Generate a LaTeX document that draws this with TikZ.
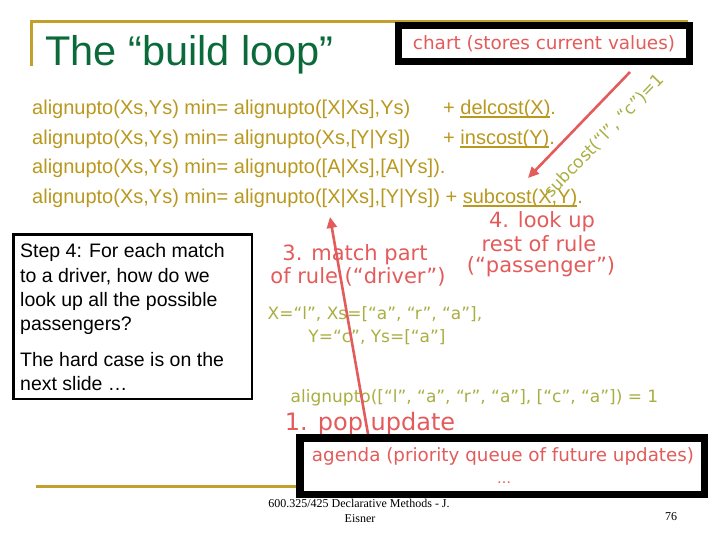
\documentclass[tikz,border=0pt]{standalone}
\usepackage{fontspec}
\setmainfont{Liberation Sans}
\newfontfamily\comicf{DejaVu Sans}
\newfontfamily\timesf{Liberation Serif}
\usetikzlibrary{arrows.meta}
\definecolor{titlegreen}{HTML}{0B6A3A}
\definecolor{rulegold}{HTML}{B8981E}
\definecolor{linegold}{HTML}{C2A02C}
\definecolor{lblred}{HTML}{E35B5B}
\definecolor{olivetxt}{HTML}{A9AE42}
\newsavebox\ulbox
\newcommand\ulthin[1]{\sbox\ulbox{#1}\rlap{\rule[-2.6pt]{\wd\ulbox}{1.1pt}}\usebox\ulbox}
\newcommand\ulthick[1]{\sbox\ulbox{#1}\rlap{\rule[-3.4pt]{\wd\ulbox}{2.2pt}}\usebox\ulbox}
\begin{document}
\begin{tikzpicture}[x=1pt,y=-1pt,
  ruletext/.style={anchor=base west, inner sep=0, text=rulegold, font=\fontsize{20}{24}\selectfont},
  steptext/.style={anchor=base west, inner sep=0, text=black, font=\fontsize{19.5}{24}\selectfont},
  redlbl/.style={inner sep=0, text=lblred, font=\comicf\fontsize{21}{24}\selectfont},
  olivelbl/.style={inner sep=0, text=olivetxt, font=\comicf\fontsize{17}{20}\selectfont},
  thickbox/.style={draw=black, fill=white, inner sep=0},
  redarrow/.style={draw=lblred, line width=2.6pt, -{Triangle[length=11pt,width=10pt]}},
  goldline/.style={draw=linegold, line width=3pt},
  foottext/.style={anchor=base, inner sep=0, text=black, font=\timesf\fontsize{12}{14}\selectfont}]
\useasboundingbox (0,0) rectangle (720,540);
% title bar
\coordinate (tl0) at (31,66);
\coordinate (tl1) at (31,22);
\coordinate (tl2) at (688,22);
\draw[goldline] (tl0) -- (tl1) -- (tl2);
\node[anchor=base west, inner sep=0, text=titlegreen, font=\fontsize{41.5}{48}\selectfont] (title) at (45,66) {The “build loop”};
% chart box
\node[thickbox, line width=7pt, minimum width=291pt, minimum height=36pt, text=lblred, font=\comicf\fontsize{18.4}{22}\selectfont] (chart) at (544,43.5) {chart (stores current values)};
% rules
\node[ruletext] (r1a) at (32,115) {alignupto(Xs,Ys) min= alignupto([X|Xs],Ys)};
\node[ruletext] (r1b) at (443,115) {+ \ulthin{delcost(X)}.};
\node[ruletext] (r2a) at (32,145) {alignupto(Xs,Ys) min= alignupto(Xs,[Y|Ys])};
\node[ruletext] (r2b) at (443,145) {+ \ulthin{inscost(Y)}.};
\node[ruletext] (r3) at (32,174) {alignupto(Xs,Ys) min= alignupto([A|Xs],[A|Ys]).};
\node[ruletext] (r4) at (32,204) {alignupto(Xs,Ys) min= alignupto([X|Xs],[Y|Ys]) + \ulthick{subcost(X,Y)}.};
% rotated subcost label and arrow from chart
\node[olivelbl, anchor=base west, rotate=46] (subc) at (551,199) {subcost(“l”, “c”)=1};
\coordinate (a2s) at (630,72);
\coordinate (a2e) at (528,178);
\draw[redarrow] (a2s) -- (a2e);
% step box
\node[thickbox, line width=2.5pt, minimum width=238.5pt, minimum height=164.5pt] (stepbox) at (132.5,316.5) {};
\node[steptext] (s1) at (20,258) {Step 4: For each match};
\node[steptext] (s2) at (20,282) {to a driver, how do we};
\node[steptext] (s3) at (20,306) {look up all the possible};
\node[steptext] (s4) at (20,330) {passengers?};
\node[steptext] (s5) at (20,366) {The hard case is on the};
\node[steptext] (s6) at (20,390) {next slide …};
% red labels
\node[redlbl] (m4a) at (542,222) {4. look up};
\node[redlbl] (m4b) at (539,244) {rest of rule};
\node[redlbl] (m4c) at (541,267) {(“passenger”)};
\node[redlbl] (m3a) at (355,255) {3. match part};
\node[redlbl] (m3b) at (358,277) {of rule (“driver”)};
% olive bindings
\node[olivelbl] (xs) at (375,314) {X=“l”, Xs=[“a”, “r”, “a”],};
\node[olivelbl] (ys) at (377,337) {Y=“c”, Ys=[“a”]};
\node[olivelbl] (res) at (474.5,398) {alignupto([“l”, “a”, “r”, “a”], [“c”, “a”]) = 1};
\node[redlbl, font=\comicf\fontsize{24}{28}\selectfont] (pop) at (370,424) {1. pop update};
% footer
\coordinate (f0) at (36,486);
\coordinate (f1) at (320,486);
\draw[goldline] (f0) -- (f1);
\node[foottext] (foot1) at (359,507) {600.325/425 Declarative Methods - J.};
\node[foottext] (foot2) at (360,522) {Eisner};
\node[foottext] (pg) at (671,520) {76};
% agenda box
\node[thickbox, line width=7.5pt, minimum width=404.5pt, minimum height=56.5pt] (agenda) at (502,466) {};
\node[redlbl, font=\comicf\fontsize{18.3}{22}\selectfont] (agt) at (503,456) {agenda (priority queue of future updates)};
\node[redlbl, font=\comicf\fontsize{14}{16}\selectfont] (dots) at (504,483) {…};
% arrow from agenda to driver
\coordinate (a3s) at (368,434);
\coordinate (a3e) at (330,217);
\draw[redarrow] (a3s) -- (a3e);
\end{tikzpicture}
\end{document}
